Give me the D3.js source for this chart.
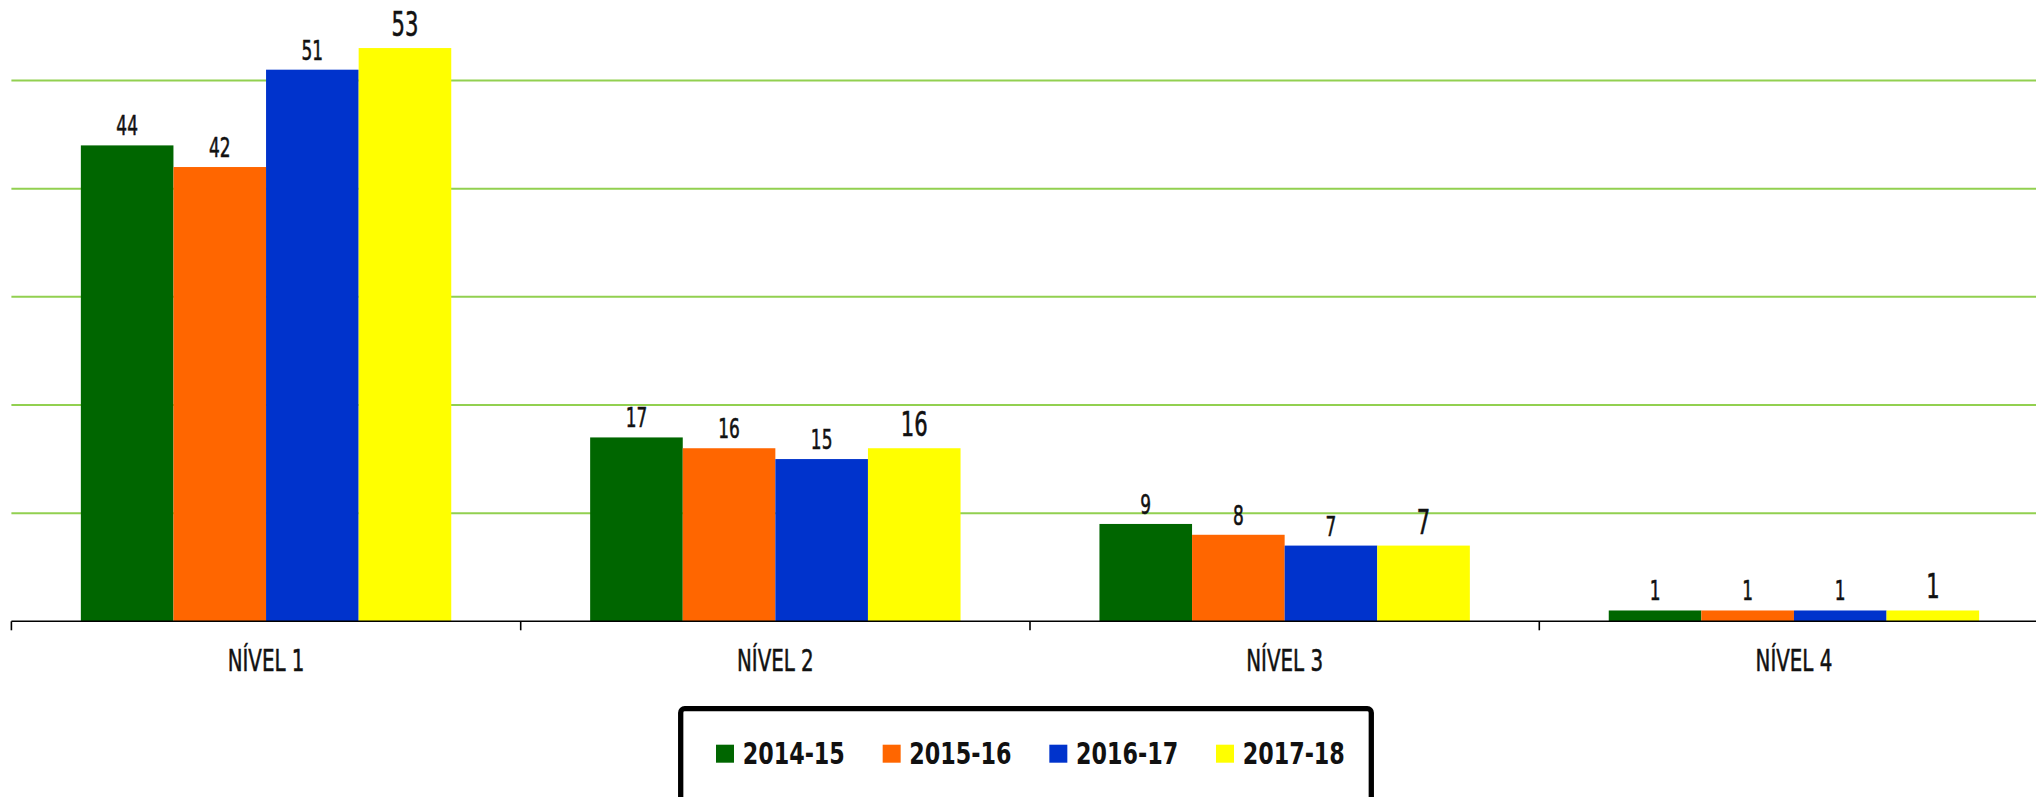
<!DOCTYPE html>
<html lang="pt">
<head>
    <meta charset="UTF-8">
    <title>Níveis 2014-15 a 2017-18</title>
    <style>
        body {
            margin: 0;
            background: #fff;
        }

        svg {
            display: block;
        }

        text {
            font-family: "DejaVu Sans", sans-serif;
            fill: #111;
        }

        .heavy {
            stroke: #111;
            stroke-width: 0.6px;
        }
    </style>
    <script src="https://d3js.org/d3.v7.min.js"></script>
</head>
<body>
    <svg id="chart"></svg>

    <script>
        const categories = ["NÍVEL 1", "NÍVEL 2", "NÍVEL 3", "NÍVEL 4"];
        const series = ["2014-15", "2015-16", "2016-17", "2017-18"];
        const colors = ["#006600", "#ff6600", "#0033cc", "#ffff00"];

        // one array per school year, in the order of categories
        const v2014 = [44, 17, 9, 1];
        const v2015 = [42, 16, 8, 1];
        const v2016 = [51, 15, 7, 1];
        const v2017 = [53, 16, 7, 1];
        const values = [v2014, v2015, v2016, v2017];

        const gridTicks = [10, 20, 30, 40, 50];

        const width = 2036,
            height = 797;

        // the original font is a narrow Futura-like face; squeeze DejaVu instead
        const squeeze = 0.64;

        const svg = d3.select("#chart")
            .attr("width", width)
            .attr("height", height);

        const x0 = d3.scaleBand()
            .domain(categories)
            .range([11.4, 2048.6])
            .paddingInner(0)
            .paddingOuter(0);

        const x1 = d3.scaleBand()
            .domain(series)
            .range([0, x0.bandwidth()])
            .paddingInner(0)
            .paddingOuter(0.75); // gap width 150%

        const y = d3.scaleLinear()
            .domain([0, 50])
            .range([621.3, 80.5]);

        const color = d3.scaleOrdinal()
            .domain(series)
            .range(colors);

        // gridlines
        svg.append("g")
            .selectAll("line")
            .data(gridTicks)
            .join("line")
            .attr("x1", x0.range()[0])
            .attr("x2", width)
            .attr("y1", d => y(d))
            .attr("y2", d => y(d))
            .attr("stroke", "#92d050")
            .attr("stroke-width", 2);

        const rows = [];
        categories.forEach((c, i) => {
            series.forEach((s, j) => rows.push({ cat: c, ser: s, idx: j, value: values[j][i] }));
        });

        const groups = svg.append("g")
            .selectAll("g")
            .data(categories)
            .join("g")
            .attr("transform", d => `translate(${x0(d)},0)`);

        groups.selectAll("rect")
            .data(c => rows.filter(r => r.cat === c))
            .join("rect")
            .attr("x", d => x1(d.ser))
            .attr("y", d => y(d.value))
            .attr("width", x1.bandwidth())
            .attr("height", d => y(0) - y(d.value))
            .attr("fill", d => color(d.ser));

        // value labels, last year drawn larger
        groups.selectAll("text")
            .data(c => rows.filter(r => r.cat === c))
            .join("text")
            .attr("class", "heavy")
            .attr("transform", d => {
                const cx = x1(d.ser) + x1.bandwidth() / 2,
                    cy = y(d.value) - (d.idx === 3 ? 12 : 10);
                return `translate(${cx},${cy}) scale(${squeeze},1)`;
            })
            .attr("text-anchor", "middle")
            .style("font-size", d => d.idx === 3 ? "33px" : "26.5px")
            .text(d => d.value);

        // x axis
        const axis = svg.append("g")
            .attr("transform", `translate(0,${y(0)})`);

        axis.append("line")
            .attr("x1", x0.range()[0])
            .attr("x2", width)
            .attr("stroke", "#000")
            .attr("stroke-width", 1.6);

        axis.selectAll(".bound")
            .data(categories.map(c => x0(c)).concat([x0.range()[1]]))
            .join("line")
            .attr("class", "bound")
            .attr("x1", d => d)
            .attr("x2", d => d)
            .attr("y1", 0)
            .attr("y2", 9)
            .attr("stroke", "#000")
            .attr("stroke-width", 1.6);

        const xAxis = axis.append("g")
            .call(d3.axisBottom(x0).tickSize(0).tickPadding(0));
        xAxis.select(".domain").remove();
        xAxis.selectAll("text")
            .attr("class", "heavy")
            .attr("dy", null)
            .attr("y", 0)
            .attr("transform", `translate(0,50) scale(${squeeze},1)`)
            .style("font-size", "31px")
            .attr("fill", "#111");

        // legend
        const legend = svg.append("g");

        legend.append("rect")
            .attr("x", 680.7)
            .attr("y", 708.7)
            .attr("width", 690.6)
            .attr("height", 130)
            .attr("rx", 4)
            .attr("fill", "#fff")
            .attr("stroke", "#000")
            .attr("stroke-width", 5.3);

        const lx = d3.scalePoint()
            .domain(series)
            .range([716, 1216]);

        const item = legend.selectAll(".item")
            .data(series)
            .join("g")
            .attr("class", "item")
            .attr("transform", d => `translate(${lx(d)},744.7)`);

        item.append("rect")
            .attr("width", 18)
            .attr("height", 18)
            .attr("fill", d => color(d));

        item.append("text")
            .attr("transform", "translate(26.7,19) scale(0.73,1)")
            .style("font-size", "30.5px")
            .style("font-weight", "bold")
            .text(d => d);
    </script>
</body>
</html>
